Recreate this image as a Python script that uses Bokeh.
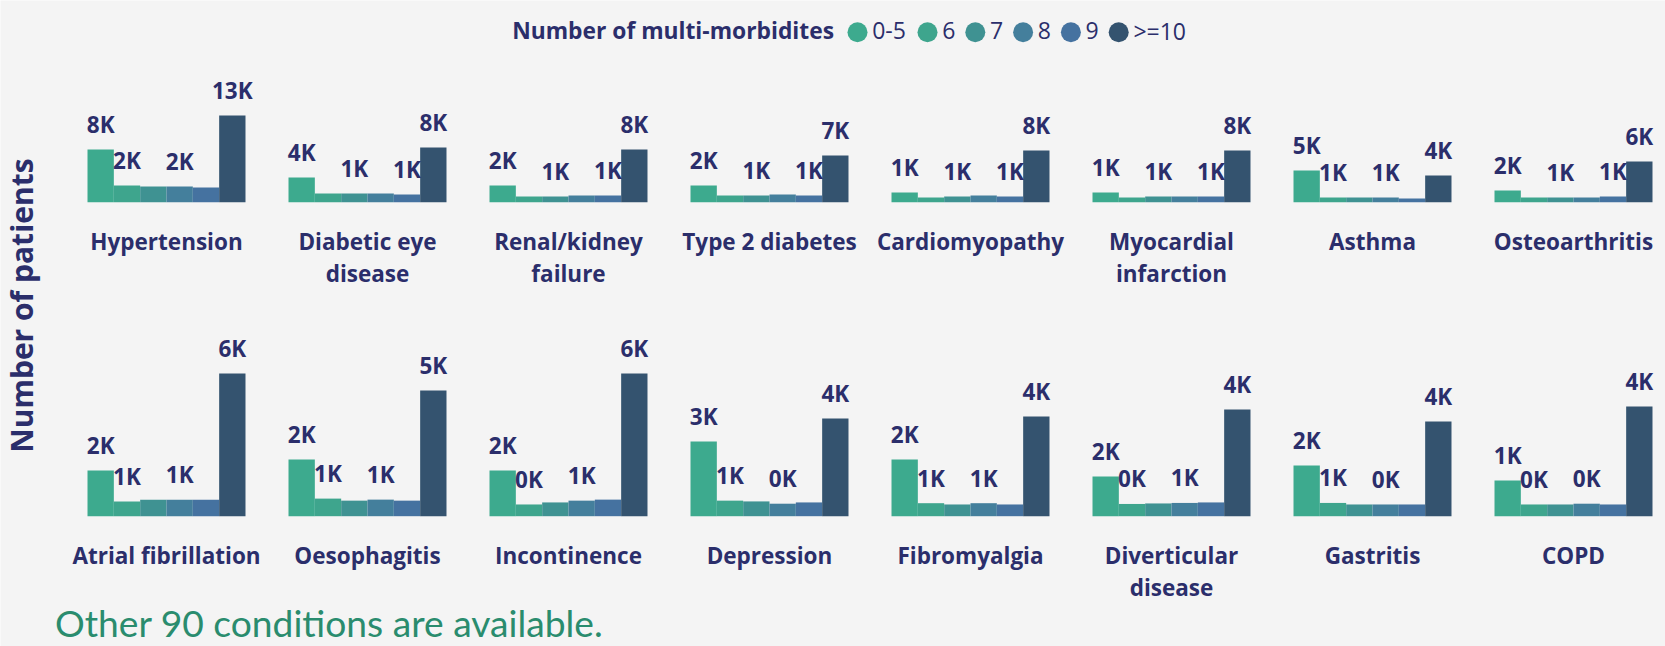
import math
from bokeh.plotting import figure
from bokeh.models import Range1d
from bokeh.core.properties import value
from bokeh.embed import file_html
from bokeh.resources import INLINE

# ---------------- data ----------------
conditions = ["Hypertension", "Diabetic eye disease", "Renal/kidney failure", "Type 2 diabetes",
              "Cardiomyopathy", "Myocardial infarction", "Asthma", "Osteoarthritis",
              "Atrial fibrillation", "Oesophagitis", "Incontinence", "Depression",
              "Fibromyalgia", "Diverticular disease", "Gastritis", "COPD"]
buckets = ["0-5", "6", "7", "8", "9", ">=10"]

patients_0_5 = [7750, 3630, 2450, 2450, 1420, 1420, 4660, 1720,
                1790, 2220, 1790, 2930, 2220, 1560, 1990, 1400]
patients_6 = [2460, 1280, 840, 990, 690, 690, 690, 690,
              580, 690, 460, 610, 510, 480, 520, 460]
patients_7 = [2310, 1280, 840, 990, 840, 840, 690, 690,
              650, 610, 540, 580, 460, 500, 460, 460]
patients_8 = [2310, 1280, 990, 1130, 990, 840, 690, 690,
              650, 650, 610, 490, 510, 520, 460, 490]
patients_9 = [2160, 1130, 990, 990, 840, 840, 540, 840,
              650, 610, 650, 540, 460, 540, 460, 460]
patients_10_plus = [12750, 8040, 7750, 6860, 7600, 7600, 3920, 5980,
                    5600, 4930, 5600, 3830, 3910, 4180, 3710, 4300]

series = [patients_0_5, patients_6, patients_7, patients_8, patients_9, patients_10_plus]

legend_title = "Number of multi-morbidites"
y_title = "Number of patients"
footer = "Other 90 conditions are available."

# ---------------- style / layout ----------------
COLORS = ["#3DAA8E", "#3EA58D", "#3F9292", "#447F9C", "#4572A0", "#34536F"]
NAVY = "#2B2E6B"
GREEN = "#2A8C6E"
BG = "#F4F4F4"
FONT = value("Open Sans")
FIX_OS = 0.42      # empirical baseline correction (em) for Open Sans
FIX_LATO = 0.46    # empirical baseline correction (em) for Lato

W, H = 1665, 646
PITCH = 201.0          # px between panel centres
COL0 = 166.0           # px, centre of first panel
BAR_PX = 26.33         # px, bar width
ROW_BASE = [201.7, 515.7]      # px from top, baseline of each row
ROW_PX_PER_K = [6.8, 25.5]     # px per 1000 patients (scale per row)
PER_ROW = 8
LABEL_GAP = 15.7
COLLIDE = 20.0
VAL_FS = 22.5
CAT_FS = 22.5
FOOT_FS = 37.2

BW = BAR_PX / PITCH

x_range = Range1d(-COL0 / PITCH, (W - COL0) / PITCH)
row_ranges = []
for base, s in zip(ROW_BASE, ROW_PX_PER_K):
    row_ranges.append(Range1d(-(H - base) / s * 1000.0, base / s * 1000.0))

p = figure(width=W, height=H, x_range=x_range, y_range=row_ranges[0],
           x_axis_location=None, y_axis_location=None,
           toolbar_location=None, output_backend="svg", min_border=0,
           background_fill_color=BG, border_fill_color=BG, outline_line_color=None)
p.xgrid.grid_line_color = None
p.ygrid.grid_line_color = None
p.extra_y_ranges = {"row2": row_ranges[1], "py": Range1d(H, 0)}
p.extra_x_ranges = {"px": Range1d(0, W)}
row_names = ["default", "row2"]


def fmt(v):
    return f"{int(v / 1000.0 + 0.5)}K"


def wrap(name):
    if len(name) > 19:
        return name.rsplit(" ", 1)
    return [name]


for r in range(2):
    rname = row_names[r]
    idx = list(range(r * PER_ROW, (r + 1) * PER_ROW))
    cols = list(range(PER_ROW))
    # bars
    for k in range(len(buckets)):
        xs = [c + (k - 2.5) * BW for c in cols]
        tops = [series[k][i] for i in idx]
        p.vbar(x=xs, top=tops, bottom=0, width=BW, fill_color=COLORS[k],
               line_color=None, y_range_name=rname)
    # value labels with simple collision avoidance
    lx, ly, lt = [], [], []
    s = ROW_PX_PER_K[r] / 1000.0
    for c, i in zip(cols, idx):
        prev_shown = None
        for k in range(len(buckets)):
            v = series[k][i]
            h = v * s
            show = True
            if prev_shown is not None and prev_shown[0] == k - 1:
                if abs(h - prev_shown[1]) < COLLIDE:
                    show = False
            if show:
                prev_shown = (k, h)
                lx.append(c + (k - 2.5) * BW)
                ly.append(v)
                lt.append(fmt(v))
    p.text(x=lx, y=ly, text=lt, y_range_name=rname,
           y_offset=-LABEL_GAP - FIX_OS * VAL_FS,
           text_align="center", text_baseline="alphabetic", text_font=FONT,
           text_font_style="bold", text_font_size=f"{VAL_FS}px", text_color=NAVY)
    # category labels
    for line in range(2):
        cx, ct = [], []
        for c, i in zip(cols, idx):
            parts = wrap(conditions[i])
            if line < len(parts):
                cx.append(c)
                ct.append(parts[line])
        if cx:
            p.text(x=cx, y=[0] * len(cx), text=ct, y_range_name=rname,
                   y_offset=48.8 + 31.5 * line - FIX_OS * CAT_FS, text_align="center",
                   text_baseline="alphabetic", text_font=FONT, text_font_style="bold",
                   text_font_size=f"{CAT_FS}px", text_color=NAVY)

# ---------------- legend (drawn in pixel ranges) ----------------
p.text(x=[511.7], y=[39.3 - FIX_OS * 22.8], text=[legend_title], x_range_name="px",
       y_range_name="py", text_align="left", text_baseline="alphabetic", text_font=FONT,
       text_font_style="bold", text_font_size="22.8px", text_color=NAVY)
cx = 857.0
centers, label_x = [], []
for b in buckets:
    centers.append(cx)
    label_x.append(cx + 14.7)
    cx += 36.7 + 11.1 * len(b)
p.scatter(x=centers, y=[31.7] * len(buckets), size=20, marker="circle",
          fill_color=COLORS, line_color=None, x_range_name="px", y_range_name="py")
p.text(x=label_x, y=[40.0 - FIX_OS * 23] * len(buckets), text=buckets, x_range_name="px",
       y_range_name="py", text_align="left", text_baseline="alphabetic", text_font=FONT,
       text_font_size="23px", text_color=NAVY)

# y-axis title
p.text(x=[33.3 - FIX_OS * 30], y=[305.0], text=[y_title], angle=math.pi / 2, x_range_name="px",
       y_range_name="py", text_align="center", text_baseline="alphabetic",
       text_font=FONT, text_font_style="bold", text_font_size="30px", text_color=NAVY)

# footer
p.text(x=[54.5], y=[639.5 - FIX_LATO * FOOT_FS], text=[footer], x_range_name="px",
       y_range_name="py", text_align="left", text_baseline="alphabetic",
       text_font=value("Lato"), text_font_size=f"{FOOT_FS}px", text_color=GREEN)

open("out.html", "w").write(file_html(p, INLINE))
